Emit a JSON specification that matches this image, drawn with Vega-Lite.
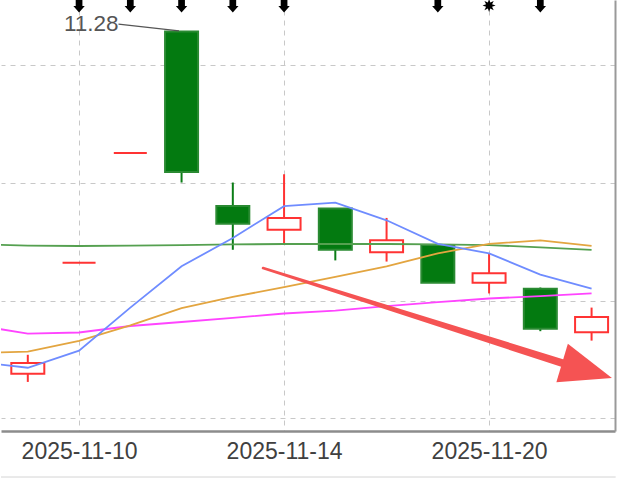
{
  "$schema": "https://vega.github.io/schema/vega-lite/v6.json",
  "width": 614,
  "height": 431,
  "padding": 0,
  "background": "white",
  "config": {"view": {"stroke": null}, "font": "Liberation Sans"},
  "datasets": {
    "k": [
      {"d": "2025-11-07", "i": 0, "o": 8.38, "h": 8.54, "l": 8.31, "c": 8.47},
      {"d": "2025-11-10", "i": 1, "o": 9.32, "h": 9.32, "l": 9.32, "c": 9.32},
      {"d": "2025-11-11", "i": 2, "o": 10.25, "h": 10.25, "l": 10.25, "c": 10.25},
      {"d": "2025-11-12", "i": 3, "o": 11.28, "h": 11.28, "l": 10.0, "c": 10.09},
      {"d": "2025-11-13", "i": 4, "o": 9.8, "h": 10.0, "l": 9.43, "c": 9.65},
      {"d": "2025-11-14", "i": 5, "o": 9.6, "h": 10.07, "l": 9.48, "c": 9.7},
      {"d": "2025-11-17", "i": 6, "o": 9.78, "h": 9.78, "l": 9.34, "c": 9.43},
      {"d": "2025-11-18", "i": 7, "o": 9.41, "h": 9.7, "l": 9.33, "c": 9.51},
      {"d": "2025-11-19", "i": 8, "o": 9.47, "h": 9.47, "l": 9.15, "c": 9.15},
      {"d": "2025-11-20", "i": 9, "o": 9.15, "h": 9.4, "l": 9.06, "c": 9.23},
      {"d": "2025-11-21", "i": 10, "o": 9.1, "h": 9.11, "l": 8.74, "c": 8.76},
      {"d": "2025-11-24", "i": 11, "o": 8.73, "h": 8.94, "l": 8.66, "c": 8.86}
    ],
    "ma": [
      {"i": -1, "ma": "MA60", "v": 9.475}, {"i": 0, "ma": "MA60", "v": 9.466}, {"i": 1, "ma": "MA60", "v": 9.462}, {"i": 2, "ma": "MA60", "v": 9.466}, {"i": 3, "ma": "MA60", "v": 9.47}, {"i": 4, "ma": "MA60", "v": 9.475}, {"i": 5, "ma": "MA60", "v": 9.479}, {"i": 6, "ma": "MA60", "v": 9.479}, {"i": 7, "ma": "MA60", "v": 9.479}, {"i": 8, "ma": "MA60", "v": 9.475}, {"i": 9, "ma": "MA60", "v": 9.47}, {"i": 10, "ma": "MA60", "v": 9.45}, {"i": 11, "ma": "MA60", "v": 9.43},
      {"i": -1, "ma": "MA20", "v": 8.79}, {"i": 0, "ma": "MA20", "v": 8.72}, {"i": 1, "ma": "MA20", "v": 8.729}, {"i": 2, "ma": "MA20", "v": 8.784}, {"i": 3, "ma": "MA20", "v": 8.818}, {"i": 4, "ma": "MA20", "v": 8.852}, {"i": 5, "ma": "MA20", "v": 8.89}, {"i": 6, "ma": "MA20", "v": 8.915}, {"i": 7, "ma": "MA20", "v": 8.953}, {"i": 8, "ma": "MA20", "v": 8.987}, {"i": 9, "ma": "MA20", "v": 9.017}, {"i": 10, "ma": "MA20", "v": 9.038}, {"i": 11, "ma": "MA20", "v": 9.061},
      {"i": -1, "ma": "MA10", "v": 8.555}, {"i": 0, "ma": "MA10", "v": 8.566}, {"i": 1, "ma": "MA10", "v": 8.657}, {"i": 2, "ma": "MA10", "v": 8.79}, {"i": 3, "ma": "MA10", "v": 8.936}, {"i": 4, "ma": "MA10", "v": 9.03}, {"i": 5, "ma": "MA10", "v": 9.114}, {"i": 6, "ma": "MA10", "v": 9.2}, {"i": 7, "ma": "MA10", "v": 9.29}, {"i": 8, "ma": "MA10", "v": 9.4}, {"i": 9, "ma": "MA10", "v": 9.48}, {"i": 10, "ma": "MA10", "v": 9.51}, {"i": 11, "ma": "MA10", "v": 9.463},
      {"i": -1, "ma": "MA5", "v": 8.48}, {"i": 0, "ma": "MA5", "v": 8.43}, {"i": 1, "ma": "MA5", "v": 8.575}, {"i": 2, "ma": "MA5", "v": 8.94}, {"i": 3, "ma": "MA5", "v": 9.29}, {"i": 4, "ma": "MA5", "v": 9.53}, {"i": 5, "ma": "MA5", "v": 9.8}, {"i": 6, "ma": "MA5", "v": 9.83}, {"i": 7, "ma": "MA5", "v": 9.68}, {"i": 8, "ma": "MA5", "v": 9.48}, {"i": 9, "ma": "MA5", "v": 9.4}, {"i": 10, "ma": "MA5", "v": 9.22}, {"i": 11, "ma": "MA5", "v": 9.1}
    ],
    "sig": [
      {"i": 1, "v": 11.497, "m": "arrow"}, {"i": 2, "v": 11.497, "m": "arrow"}, {"i": 3, "v": 11.497, "m": "arrow"}, {"i": 4, "v": 11.497, "m": "arrow"}, {"i": 5, "v": 11.497, "m": "arrow"}, {"i": 8, "v": 11.497, "m": "arrow"}, {"i": 9, "v": 11.5, "m": "star"}, {"i": 10, "v": 11.497, "m": "arrow"}
    ],
    "note": [{"i": 1.77, "v": 11.343, "t": "11.28", "i2": 2.95, "v2": 11.285}],
    "shaft": [{"i": 4.589, "v": 9.275, "t": 0}, {"i": 10.64, "v": 8.441, "t": 1}],
    "head": [{"i": 10.911, "v": 8.407}],
    "frame": [{"a": -0.523, "b": 11.47, "v": 7.504}]
  },
  "layer": [
    {
      "data": {"name": "k"},
      "mark": {"type": "rule", "strokeWidth": 2, "clip": true},
      "encoding": {
        "x": {"field": "i", "type": "quantitative", "scale": {"domain": [-0.523, 11.457], "nice": false, "zero": false, "padding": 0},
          "axis": {"title": null, "values": [1, 5, 9], "labelExpr": "datum.value == 1 ? '2025-11-10' : datum.value == 5 ? '2025-11-14' : '2025-11-20'", "grid": true, "gridDash": [5, 5], "gridColor": "#c8c8c8", "gridWidth": 1, "ticks": false, "tickSize": 0, "labelFontSize": 23, "labelFont": "Liberation Sans", "labelColor": "#404040", "labelPadding": 9, "labelFlush": false, "labelOverlap": false, "labelBound": false, "domainColor": "#8c8c8c", "domainWidth": 2.5}},
        "y": {"field": "l", "type": "quantitative", "scale": {"domain": [7.894, 11.547], "nice": false, "zero": false, "padding": 0},
          "axis": {"title": null, "orient": "right", "values": [8, 9, 10, 11], "grid": true, "gridDash": [5, 5], "gridColor": "#c8c8c8", "gridWidth": 1, "labels": false, "ticks": false, "domainColor": "#999999", "domainWidth": 2}},
        "y2": {"field": "h"},
        "color": {"condition": {"test": "datum.c >= datum.o", "value": "#ff3333"}, "value": "#0b7d16"}
      }
    },
    {
      "data": {"name": "k"},
      "mark": {"type": "bar", "width": 33, "strokeWidth": 2, "clip": true},
      "encoding": {
        "x": {"field": "i", "type": "quantitative"},
        "y": {"field": "o", "type": "quantitative"},
        "y2": {"field": "c"},
        "fill": {"condition": {"test": "datum.c >= datum.o", "value": "#ffffff"}, "value": "#037a10"},
        "stroke": {"condition": {"test": "datum.c >= datum.o", "value": "#ff3333"}, "value": "#2a8a32"}
      }
    },
    {
      "data": {"name": "ma"},
      "mark": {"type": "line", "strokeWidth": 1.8, "clip": true},
      "encoding": {
        "x": {"field": "i", "type": "quantitative"},
        "y": {"field": "v", "type": "quantitative"},
        "color": {"field": "ma", "type": "nominal", "scale": {"domain": ["MA5", "MA10", "MA20", "MA60"], "range": ["#6f8cff", "#e3a540", "#ff44ff", "#55a050"]}, "legend": null},
        "detail": {"field": "ma"}
      }
    },
    {
      "data": {"name": "sig"},
      "transform": [{"filter": "datum.m == 'arrow'"}],
      "mark": {"type": "point", "filled": true, "color": "#000000", "size": 180, "opacity": 1, "clip": true,
        "shape": "M-0.5,-1 L0.5,-1 L0.5,0 L0.85,0 L0,1 L-0.85,0 L-0.5,0 Z"},
      "encoding": {
        "x": {"field": "i", "type": "quantitative"},
        "y": {"field": "v", "type": "quantitative"}
      }
    },
    {
      "data": {"name": "sig"},
      "transform": [{"filter": "datum.m == 'star'"}],
      "mark": {"type": "point", "filled": true, "color": "#000000", "size": 170, "opacity": 1, "clip": true,
        "shape": "M1,0 L0.46,0.19 L0.71,0.71 L0.19,0.46 L0,1 L-0.19,0.46 L-0.71,0.71 L-0.46,0.19 L-1,0 L-0.46,-0.19 L-0.71,-0.71 L-0.19,-0.46 L0,-1 L0.19,-0.46 L0.71,-0.71 L0.46,-0.19 Z"},
      "encoding": {
        "x": {"field": "i", "type": "quantitative"},
        "y": {"field": "v", "type": "quantitative"}
      }
    },
    {
      "data": {"name": "note"},
      "mark": {"type": "rule", "color": "#555555", "strokeWidth": 1.2, "clip": true},
      "encoding": {
        "x": {"field": "i", "type": "quantitative"},
        "y": {"field": "v", "type": "quantitative"},
        "x2": {"field": "i2"},
        "y2": {"field": "v2"}
      }
    },
    {
      "data": {"name": "note"},
      "mark": {"type": "text", "align": "right", "baseline": "middle", "fontSize": 22.5, "font": "Liberation Sans", "color": "#555555", "clip": true},
      "encoding": {
        "x": {"field": "i", "type": "quantitative"},
        "y": {"field": "v", "type": "quantitative"},
        "text": {"field": "t"}
      }
    },
    {
      "data": {"name": "shaft"},
      "mark": {"type": "trail", "color": "#f55353", "clip": true},
      "encoding": {
        "x": {"field": "i", "type": "quantitative"},
        "y": {"field": "v", "type": "quantitative"},
        "size": {"field": "t", "type": "quantitative", "scale": {"domain": [0, 1], "range": [2.5, 8]}, "legend": null}
      }
    },
    {
      "data": {"name": "head"},
      "mark": {"type": "point", "filled": true, "color": "#f55353", "opacity": 1, "size": 2704, "angle": 16.7, "clip": true,
        "shape": "M1,0 L-1,-0.77 L-1,0.77 Z"},
      "encoding": {
        "x": {"field": "i", "type": "quantitative"},
        "y": {"field": "v", "type": "quantitative"}
      }
    },
    {
      "data": {"name": "frame"},
      "mark": {"type": "rule", "color": "#d4d4d4", "strokeWidth": 1, "clip": false},
      "encoding": {
        "x": {"field": "a", "type": "quantitative"},
        "x2": {"field": "b"},
        "y": {"field": "v", "type": "quantitative"}
      }
    }
  ]
}
